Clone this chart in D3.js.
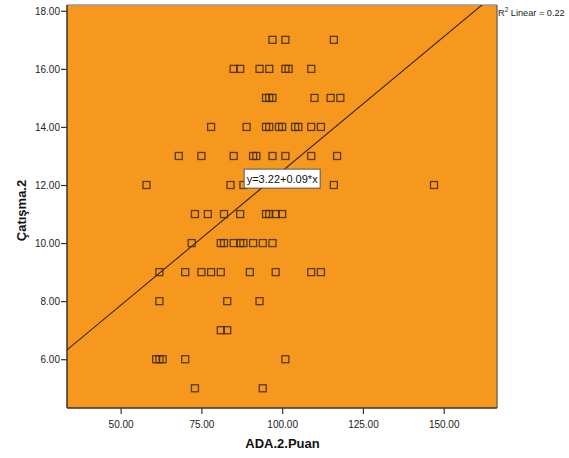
<!DOCTYPE html>
<html>
<head>
<meta charset="utf-8">
<script src="https://cdn.jsdelivr.net/npm/d3@7"></script>
<style>
  body { margin: 0; background: #fff; }
  svg { display: block; font-family: "Liberation Sans", Arial, sans-serif; }
</style>
</head>
<body>
<svg id="chart" width="569" height="458"></svg>
<script>
// Çatışma.2 levels (y) and the ADA.2.Puan scores (x) read at each level
const catismaLevels = [17, 16, 15, 14, 13, 12, 11, 10, 9, 8, 7, 6, 5];
const adaByLevel = [
  [97, 101, 116],
  [85, 87, 93, 96, 101, 102, 109],
  [95, 96, 97, 110, 115, 118],
  [78, 89, 95, 96, 99, 100, 104, 105, 109, 112],
  [68, 75, 85, 91, 92, 97, 101, 109, 117],
  [58, 84, 88, 116, 147],
  [73, 77, 82, 87, 95, 96, 98, 100],
  [72, 81, 82, 85, 87, 88, 91, 94, 97],
  [62, 70, 75, 78, 81, 90, 98, 109, 112],
  [62, 83, 93],
  [81, 83],
  [61, 62, 63, 70, 101],
  [73, 94]
];
const xTicks = [50, 75, 100, 125, 150];
const yTicks = [6, 8, 10, 12, 14, 16, 18];
const fitIntercept = 3.23;
const fitSlope = 0.0925;
const fitLabel = "y=3.22+0.09*x";
const r2Value = "0.22";

const points = [];
catismaLevels.forEach((lvl, i) => {
  adaByLevel[i].forEach(v => points.push({ x: v, y: lvl }));
});

const svg = d3.select("#chart");
const plot = { left: 67, right: 497, top: 5, bottom: 408 };

const x = d3.scaleLinear().domain([33.4, 166.5]).range([plot.left, plot.right]);
const y = d3.scaleLinear().domain([4.32, 18.2]).range([plot.bottom, plot.top]);

// plot background
svg.append("rect")
  .attr("x", plot.left).attr("y", plot.top)
  .attr("width", plot.right - plot.left).attr("height", plot.bottom - plot.top)
  .attr("fill", "#f7981e");

svg.append("clipPath").attr("id", "plotclip")
  .append("rect")
  .attr("x", plot.left).attr("y", plot.top)
  .attr("width", plot.right - plot.left).attr("height", plot.bottom - plot.top);

// axes
const xAxis = svg.append("g")
  .attr("transform", `translate(0,${plot.bottom})`)
  .call(d3.axisBottom(x).tickValues(xTicks).tickFormat(d3.format(".2f")).tickSize(6).tickSizeOuter(0));
const yAxis = svg.append("g")
  .attr("transform", `translate(${plot.left},0)`)
  .call(d3.axisLeft(y).tickValues(yTicks).tickFormat(d3.format(".2f")).tickSize(6).tickSizeOuter(0));

[xAxis, yAxis].forEach(a => {
  a.select(".domain").remove();
  a.selectAll("line").attr("stroke", "#333").attr("stroke-width", 1.2);
  a.selectAll("text").attr("fill", "#222").attr("font-size", 10)
    .attr("font-family", "Liberation Sans, Arial, sans-serif");
});
xAxis.selectAll("text").attr("dy", "1.05em");
yAxis.selectAll("text").attr("dy", "0.34em").attr("x", -7);

// frame
svg.append("line").attr("x1", plot.left).attr("x2", plot.right).attr("y1", plot.top).attr("y2", plot.top)
  .attr("stroke", "#9a9a9a").attr("stroke-width", 1.5);
svg.append("line").attr("x1", plot.right).attr("x2", plot.right).attr("y1", plot.top).attr("y2", plot.bottom)
  .attr("stroke", "#7a6a5a").attr("stroke-width", 1.5);
svg.append("line").attr("x1", plot.left).attr("x2", plot.left).attr("y1", plot.top).attr("y2", plot.bottom)
  .attr("stroke", "#333").attr("stroke-width", 1.5);
svg.append("line").attr("x1", plot.left).attr("x2", plot.right).attr("y1", plot.bottom).attr("y2", plot.bottom)
  .attr("stroke", "#333").attr("stroke-width", 1.5);

// fit line
const xDom = x.domain();
svg.append("line")
  .attr("clip-path", "url(#plotclip)")
  .attr("x1", x(xDom[0])).attr("y1", y(fitIntercept + fitSlope * xDom[0]))
  .attr("x2", x(xDom[1])).attr("y2", y(fitIntercept + fitSlope * xDom[1]))
  .attr("stroke", "#3a2410").attr("stroke-width", 1.1);

// points
const s = 7;
svg.append("g").selectAll("rect")
  .data(points)
  .join("rect")
  .attr("x", d => x(d.x) - s / 2)
  .attr("y", d => y(d.y) - s / 2)
  .attr("width", s).attr("height", s)
  .attr("fill", "none")
  .attr("stroke", "#3d2a12")
  .attr("stroke-opacity", 0.85)
  .attr("stroke-width", 1.3);

// equation label
const eqG = svg.append("g").attr("transform", `translate(${x(100)},${y(12.22)})`);
eqG.append("rect")
  .attr("x", -38).attr("y", -9.5).attr("width", 76).attr("height", 19)
  .attr("fill", "#fff").attr("stroke", "#555").attr("stroke-width", 1);
eqG.append("text")
  .attr("text-anchor", "middle").attr("dy", "0.36em")
  .attr("font-size", 11).attr("fill", "#111")
  .text(fitLabel);

// R² label
const r2 = svg.append("text")
  .attr("x", plot.right + 1).attr("y", 16)
  .attr("font-size", 9.2).attr("fill", "#222");
r2.append("tspan").text("R");
r2.append("tspan").attr("font-size", 6.5).attr("dy", -4).text("2");
r2.append("tspan").attr("dy", 4).text(" Linear = " + r2Value);

// axis titles
svg.append("text")
  .attr("x", (plot.left + plot.right) / 2 + 0.5).attr("y", 448)
  .attr("text-anchor", "middle")
  .attr("font-size", 13).attr("font-weight", "bold").attr("fill", "#111")
  .text("ADA.2.Puan");

svg.append("text")
  .attr("transform", `translate(26,${(plot.top + plot.bottom) / 2 + 4}) rotate(-90)`)
  .attr("text-anchor", "middle")
  .attr("font-size", 13).attr("font-weight", "bold").attr("fill", "#111")
  .text("Çatışma.2");
</script>
</body>
</html>
